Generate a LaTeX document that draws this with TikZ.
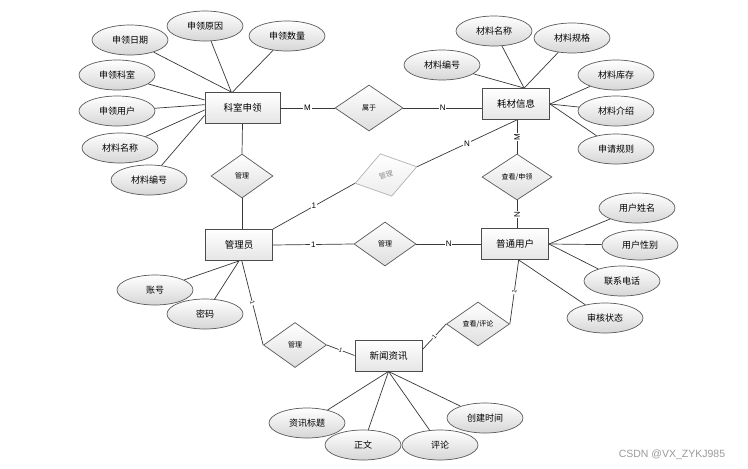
\documentclass[tikz,border=0pt]{standalone}
\usepackage{fontspec}
\setmainfont{Noto Sans CJK SC}
\newfontfamily\latf{Liberation Sans}
\usetikzlibrary{shapes.geometric}
\tikzset{
  ent/.style={rectangle, draw=black!70, line width=0.9pt, top color=white, bottom color=black!10,
    minimum width=67pt, minimum height=31pt, inner sep=0pt, font=\fontsize{9.5}{10}\selectfont},
  attr/.style={ellipse, draw=black!65, line width=0.7pt, top color=white, bottom color=black!16,
    minimum width=76pt, minimum height=30pt, inner sep=0pt, font=\fontsize{9}{10}\selectfont},
  rel/.style={diamond, draw=black!65, line width=0.7pt, top color=white, bottom color=black!13,
    minimum width=64pt, minimum height=45pt, inner sep=0pt, font=\fontsize{7}{8}\selectfont},
  conn/.style={draw=black!78, line width=0.7pt},
  card/.style={font=\latf\fontsize{8}{9}\selectfont, fill=white, inner sep=0.8pt},
  tick/.style={font=\latf\fontsize{6}{7}\selectfont, fill=white, inner sep=0.5pt, sloped},
}
\begin{document}
\begin{tikzpicture}[x=1pt,y=-1pt]
\useasboundingbox[fill=white] (0,0) rectangle (748,469);

% entities
\node[ent, minimum width=75pt] (ks) at (242.5,108) {科室申领};
\node[ent] (hc) at (516,104) {耗材信息};
\node[ent] (gly) at (239,245) {管理员};
\node[ent] (pt) at (515,244) {普通用户};
\node[ent] (xw) at (388.5,355.5) {新闻资讯};

% relationships
\node[rel, minimum width=68pt, minimum height=46pt] (sy) at (369,108) {属于};
\node[rel, minimum width=62pt, minimum height=44pt] (gl1) at (242,176) {管理};
\node[rel, rotate=15, draw=black!30, bottom color=black!7, text=black!45, minimum width=64pt, minimum height=44pt] (gl2) at (386,175) {管理};
\node[rel, minimum width=62pt, minimum height=44pt] (gl3) at (385,244) {管理};
\node[rel, minimum width=70pt, minimum height=46pt] (cs) at (517,177) {查看/申领};
\node[rel, minimum width=63pt, minimum height=45pt] (gl4) at (295,345) {管理};
\node[rel, minimum width=63pt, minimum height=44pt] (cp) at (478,324) {查看/评论};

% attributes of 科室申领
\node[attr] (a1) at (130,40) {申领日期};
\node[attr] (a2) at (205,26) {申领原因};
\node[attr] (a3) at (287,36) {申领数量};
\node[attr] (a4) at (117,75) {申领科室};
\node[attr] (a5) at (117,111) {申领用户};
\node[attr] (a6) at (120,148) {材料名称};
\node[attr] (a7) at (149,180) {材料编号};

% attributes of 耗材信息
\node[attr] (b1) at (494,31) {材料名称};
\node[attr] (b2) at (572,38) {材料规格};
\node[attr] (b3) at (442,65) {材料编号};
\node[attr] (b4) at (616,75) {材料库存};
\node[attr] (b5) at (616,111) {材料介绍};
\node[attr] (b6) at (616,149) {申请规则};

% attributes of 普通用户
\node[attr] (c1) at (637,208) {用户姓名};
\node[attr] (c2) at (640,245) {用户性别};
\node[attr] (c3) at (622,281) {联系电话};
\node[attr] (c4) at (605,318) {审核状态};

% attributes of 管理员
\node[attr] (d1) at (155,290) {账号};
\node[attr] (d2) at (205,314) {密码};

% attributes of 新闻资讯
\node[attr] (e1) at (307,423) {资讯标题};
\node[attr] (e2) at (363,445) {正文};
\node[attr] (e3) at (440,445) {评论};
\node[attr] (e4) at (485,418) {创建时间};

% attribute lines
\draw[conn] (a1) -- (ks.125);
\draw[conn] (a2) -- (ks.125);
\draw[conn] (a3) -- (ks.122);
\draw[conn] (a4) -- (ks.168);
\draw[conn] (a5) -- (ks.175);
\draw[conn] (a6) -- (ks.183);
\draw[conn] (a7) -- (ks.191);

\draw[conn] (b1) -- (hc.63);
\draw[conn] (b2) -- (hc.63);
\draw[conn] (b3) -- (hc.63);
\draw[conn] (b4) -- (hc.east);
\draw[conn] (b5) -- (hc.east);
\draw[conn] (b6) -- (hc.east);

\draw[conn] (c1) -- (pt.east);
\draw[conn] (c2) -- (pt.east);
\draw[conn] (c3) -- (pt.east);
\draw[conn] (c4) -- (pt.-77);

\draw[conn] (d1) -- (gly.south);
\draw[conn] (d2) -- (gly.south);

\draw[conn] (e1) -- (xw.south);
\draw[conn] (e2) -- (xw.south);
\draw[conn] (e3) -- (xw.south);
\draw[conn] (e4) -- (xw.south);

% relationship lines
\draw[conn] (ks.east) -- node[card] {M} (sy.west);
\draw[conn] (sy.east) -- node[card] {N} (sy.east -| hc.west);
\draw[conn] (ks.south) -- (gl1.north);
\draw[conn] (gl1.south) -- (gl1.south |- gly.north);
\draw[conn] (gly.east) -- node[card] {1} (gl3.west);
\draw[conn] (gl3.east) -- node[card] {N} (pt.west);
\draw[conn] (gly.north east) -- node[card] {1} (gl2.west);
\draw[conn] (gl2.east) -- node[card] {N} (hc.-87);
\draw[conn] (cs.north) -- node[card, rotate=90] {M} (cs.north |- hc.south);
\draw[conn] (cs.south) -- node[card, rotate=90] {N} (cs.south |- pt.north);
\draw[conn] (gly.-80) -- node[tick, pos=0.5] {1} (gl4.west);
\draw[conn] (gl4.east) -- node[tick] {1} (xw.west);
\draw[conn] (xw.10) -- node[tick] {1} (cp.west);
\draw[conn] (cp.east) -- node[tick] {1} (pt.-77);

% watermark
\node[font=\latf\fontsize{10.5}{11}\selectfont, text=black!40, inner sep=0pt] (wm) at (672,455) {CSDN @VX\_ZYKJ985};
\end{tikzpicture}
\end{document}
